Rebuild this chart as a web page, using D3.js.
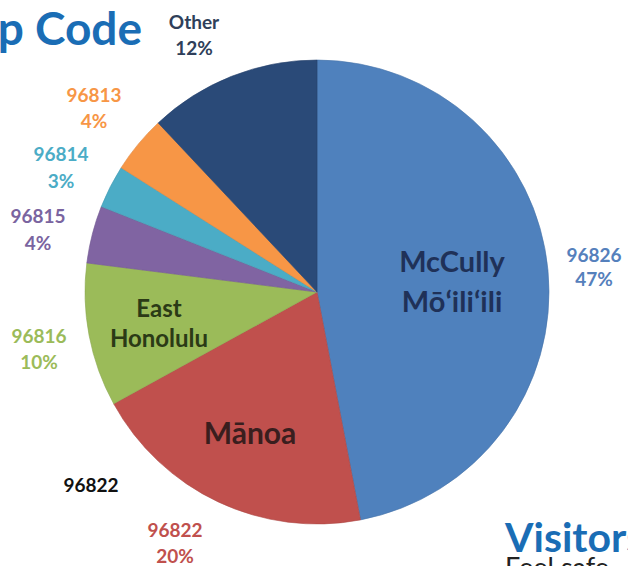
<!DOCTYPE html>
<html><head><meta charset="utf-8">
<script src="https://cdn.jsdelivr.net/npm/d3@7"></script>
<style>html,body{margin:0;padding:0;background:#fff;overflow:hidden}svg{display:block}</style>
</head><body>
<svg id="c" width="628" height="566"></svg>
<script>
// Data
const zips = ["96826","96822","96816","96815","96814","96813","Other"];
const shares = [47,20,10,4,3,4,12];
const areaNames = [["McCully","Mōʻiliʻili"],["Mānoa"],["East","Honolulu"],[],[],[],[]];
const colors = ["#4F81BD","#C0504D","#9BBB59","#8064A2","#4BACC6","#F79646","#2A4A78"];
const labelColors = ["#5580BC","#C0504D","#9BBB59","#7A64A0","#4BACC6","#F79646","#2F3F5A"];
const innerColors = ["#1F3158","#3A1E1E","#2B3A16"];

const svg = d3.select("#c");
const cx = 317, cy = 292, R = 232;
const font = "Lato, 'Open Sans', sans-serif";

const data = zips.map((z,i)=>({zip:z, v:shares[i], names:areaNames[i], color:colors[i], lc:labelColors[i]}));
const pie = d3.pie().value(d=>d.v).sort(null);
const arcs = pie(data);
const arc = d3.arc().innerRadius(0).outerRadius(R);

const g = svg.append("g").attr("transform",`translate(${cx},${cy})`);
g.selectAll("path").data(arcs).enter().append("path")
  .attr("d", arc).attr("fill", d=>d.data.color)
  .attr("stroke", d=>d3.color(d.data.color).darker(0.3)).attr("stroke-width",0.6);

// outside label placement
const outPos = {"96826":[594,262,24],"96822":[175,537,26],"96816":[39,343,26],"96815":[38,223,27],"96814":[61,161,27],"96813":[94,102,26],"Other":[194,29,26]};
data.forEach(d=>{
  const p = outPos[d.zip];
  const t = svg.append("text").attr("text-anchor","middle")
    .attr("font-family",font).attr("font-weight","bold").attr("font-size",19).attr("fill",d.lc);
  t.append("tspan").attr("x",p[0]).attr("y",p[1]).text(d.zip);
  t.append("tspan").attr("x",p[0]).attr("y",p[1]+p[2]).text(d.v+"%");
});

// inner area names: [x, baseline, size, line gap]
const inPos = [[452,272,29,40],[250,444,30,0],[159,317,24,30]];
inPos.forEach((p,i)=>{
  const t = svg.append("text").attr("text-anchor","middle").attr("font-family",font)
    .attr("font-weight","bold").attr("font-size",p[2]).attr("fill",innerColors[i]);
  data[i].names.forEach((n,k)=>{
    t.append("tspan").attr("x",p[0]).attr("y",p[1]+k*p[3]).text(n);
  });
});

// stray label
svg.append("text").attr("x",91).attr("y",492).attr("text-anchor","middle")
  .attr("font-family",font).attr("font-weight","bold").attr("font-size",19).attr("fill","#111").text("96822");

// title fragments (cropped slide)
svg.append("text").attr("x",142).attr("y",45).attr("text-anchor","end")
  .attr("font-family",font).attr("font-weight","bold").attr("font-size",46).attr("fill","#1A6DB5").text("Zip Code");
svg.append("text").attr("x",505).attr("y",552)
  .attr("font-family",font).attr("font-weight","bold").attr("font-size",41).attr("fill","#1A6DB5").text("Visitors");
svg.append("text").attr("x",505).attr("y",577)
  .attr("font-family",font).attr("font-size",27).attr("fill","#222").text("Feel safe");
</script>
</body></html>
